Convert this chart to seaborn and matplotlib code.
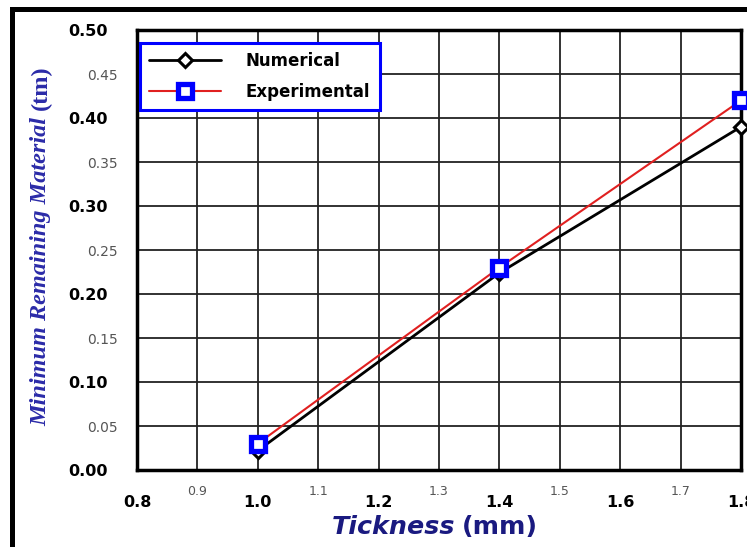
import matplotlib
matplotlib.use("Agg")
import matplotlib.pyplot as plt
import seaborn as sns
import pandas as pd
from matplotlib.ticker import FixedLocator
from matplotlib.patches import Rectangle

thickness = [1.0, 1.4, 1.8]
numerical = [0.022, 0.224, 0.390]
experimental = [0.030, 0.230, 0.420]
series_names = ["Numerical", "Experimental"]

x_major = [0.8, 1.0, 1.2, 1.4, 1.6, 1.8]
x_minor = [0.9, 1.1, 1.3, 1.5, 1.7]
y_major = [0.00, 0.10, 0.20, 0.30, 0.40, 0.50]
y_minor = [0.05, 0.15, 0.25, 0.35, 0.45]

sns.set_style("white")
plt.rcParams['font.family'] = ['DejaVu Sans']
plt.rcParams.update({"text.color": "black", "axes.labelcolor": "black",
                     "xtick.color": "black", "ytick.color": "black"})

fig = plt.figure(figsize=(7.47, 5.47), dpi=100)
ax = fig.add_axes([137/747, 1-470/547, (741-137)/747, (470-30)/547])

df_num = pd.DataFrame({"x": thickness, "y": numerical})
df_exp = pd.DataFrame({"x": thickness, "y": experimental})

sns.lineplot(data=df_num, x="x", y="y", ax=ax, color="black", lw=2.0,
             marker="D", markersize=7.5, markerfacecolor="white",
             markeredgecolor="black", markeredgewidth=2.2,
             label=series_names[0], zorder=5, clip_on=False)
sns.lineplot(data=df_exp, x="x", y="y", ax=ax, color="#e02020", lw=1.5,
             marker="s", markersize=10, markerfacecolor="white",
             markeredgecolor="#0000ff", markeredgewidth=3.8,
             label=series_names[1], zorder=6, clip_on=False)

ax.set_xlim(0.8, 1.8)
ax.set_ylim(0.0, 0.5)

ax.xaxis.set_major_locator(FixedLocator(x_major))
ax.xaxis.set_minor_locator(FixedLocator(x_minor))
ax.yaxis.set_major_locator(FixedLocator(y_major))
ax.yaxis.set_minor_locator(FixedLocator(y_minor))
ax.set_xticklabels([f"{v:.1f}" for v in x_major], fontweight="bold", fontsize=11.5, color="black")
ax.set_xticklabels([f"{v:.1f}" for v in x_minor], minor=True, fontsize=9, color="#555555")
ax.set_yticklabels([f"{v:.2f}" for v in y_major], fontweight="bold", fontsize=11.5, color="black")
ax.set_yticklabels([f"{v:.2f}" for v in y_minor], minor=True, fontsize=10, color="#555555")

ax.tick_params(axis="y", which="major", direction="out", length=16, width=2.5, pad=5, color="black")
ax.tick_params(axis="y", which="minor", direction="out", length=9, width=2, pad=5, color="black")
ax.tick_params(axis="x", which="major", direction="out", length=9, width=2.5, pad=9, color="black")
ax.tick_params(axis="x", which="minor", direction="out", length=5, width=2, pad=6, color="black")

ax.grid(True, which="both", color="#222222", lw=1.3)
ax.set_axisbelow(True)
for s in ax.spines.values():
    s.set_color("black")
    s.set_linewidth(2.5)

ax.set_xlabel("")
ax.set_ylabel("")
# x label composed of italic and non-italic parts
fig.text(455/747, 1-527/547, "Tickness", ha="right", va="center",
         fontsize=18.3, fontweight="bold", fontstyle="italic", color="#1a1a80")
fig.text(462/747, 1-527/547, "(mm)", ha="left", va="center",
         fontsize=18.3, fontweight="bold", color="#1a1a80")
# y label
fig.text(41/747, 1-272/547, "Minimum Remaining Material", rotation=90, ha="center", va="center",
         fontsize=17.5, fontstyle="italic", fontweight="bold", family="Liberation Serif",
         color="#2b2ba8")
fig.text(41/747, 1-88/547, "(tm)", rotation=90, ha="center", va="center",
         fontsize=17.5, fontweight="bold", family="Liberation Serif", color="#2b2ba8")

leg = ax.legend(loc="upper left", bbox_to_anchor=(3/604, 1-13/440), frameon=True,
                fancybox=False, edgecolor="#0000ff", framealpha=1, borderaxespad=0,
                prop={"weight": "bold", "size": 12}, handlelength=4.3,
                handletextpad=1.5, borderpad=0.55, labelspacing=0.75)
leg.get_frame().set_linewidth(2.2)
for t in leg.get_texts():
    t.set_color("black")

# outer frame (cropped image border)
fig.add_artist(Rectangle((10/747, 0), 5/747, 1-7/547, transform=fig.transFigure,
                         color="black", lw=0))
fig.add_artist(Rectangle((10/747, 1-12/547), 1-10/747, 5/547, transform=fig.transFigure,
                         color="black", lw=0))

fig.savefig("out.png", dpi=100)
